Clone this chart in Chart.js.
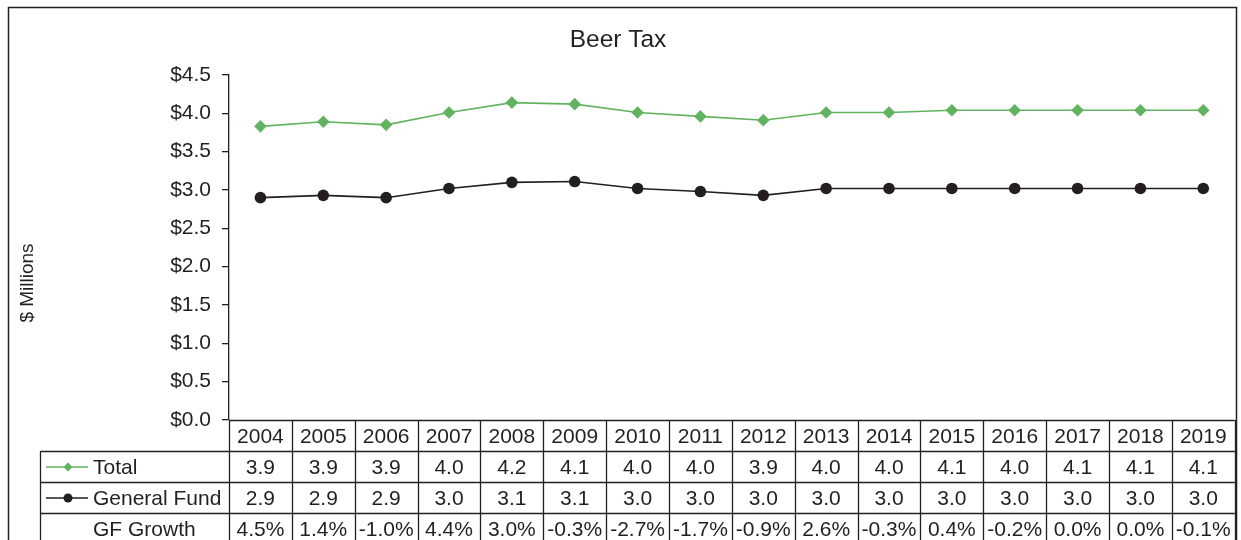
<!DOCTYPE html>
<html>
<head>
<meta charset="utf-8">
<title>Beer Tax</title>
<script src="https://cdn.jsdelivr.net/npm/chart.js@4"></script>
<style>
    body { margin: 0; background: #fff; }
    #wrap { position: relative; width: 1241px; height: 540px; }
</style>
</head>
<body>
<div id="wrap"><canvas id="myChart" width="1241" height="540"></canvas></div>
<script>
//Daten
var years = ["2004", "2005", "2006", "2007", "2008", "2009", "2010", "2011", "2012", "2013", "2014", "2015", "2016", "2017", "2018", "2019"];
var totalValues = [3.83, 3.89, 3.85, 4.01, 4.14, 4.12, 4.01, 3.96, 3.91, 4.01, 4.01, 4.04, 4.04, 4.04, 4.04, 4.04];
var gfValues = [2.90, 2.93, 2.90, 3.02, 3.10, 3.11, 3.02, 2.98, 2.93, 3.02, 3.02, 3.02, 3.02, 3.02, 3.02, 3.02];
var totalLabels = ["3.9", "3.9", "3.9", "4.0", "4.2", "4.1", "4.0", "4.0", "3.9", "4.0", "4.0", "4.1", "4.0", "4.1", "4.1", "4.1"];
var gfLabels = ["2.9", "2.9", "2.9", "3.0", "3.1", "3.1", "3.0", "3.0", "3.0", "3.0", "3.0", "3.0", "3.0", "3.0", "3.0", "3.0"];
var growthLabels = ["4.5%", "1.4%", "-1.0%", "4.4%", "3.0%", "-0.3%", "-2.7%", "-1.7%", "-0.9%", "2.6%", "-0.3%", "0.4%", "-0.2%", "0.0%", "0.0%", "-0.1%"];
var seriesNames = ["Total", "General Fund", "GF Growth"];
var yTitle = "$ Millions";

var green = "#62b360";
var black = "#231f20";
var fontFamily = "'Liberation Sans', Arial, sans-serif";

//Rahmen, Achsentitel und Datentabelle
var tablePlugin = {
    id: "dataTable",
    afterDraw: function (chart) {
        var ctx = chart.ctx;
        var area = chart.chartArea;
        var x = chart.scales.x;
        var rowH = 31;
        var top = area.bottom;
        var legendLeft = 40.5;
        var colW = (area.right - area.left) / years.length;
        ctx.save();

        //Rahmen
        ctx.strokeStyle = black;
        ctx.lineWidth = 1.5;
        ctx.strokeRect(8.5, 7.5, 1228, 600);

        //Y-Titel
        ctx.fillStyle = black;
        ctx.font = "19px " + fontFamily;
        ctx.textAlign = "center";
        ctx.textBaseline = "middle";
        ctx.translate(28, 283);
        ctx.rotate(-Math.PI / 2);
        ctx.fillText(yTitle, 0, 0);
        ctx.setTransform(1, 0, 0, 1, 0, 0);

        //Linien
        ctx.lineWidth = 1.3;
        ctx.beginPath();
        ctx.moveTo(area.left, top + 0.5);
        ctx.lineTo(area.right, top + 0.5);
        for (var r = 1; r <= 3; r++) {
            ctx.moveTo(legendLeft, top + r * rowH + 0.5);
            ctx.lineTo(area.right, top + r * rowH + 0.5);
        }
        ctx.moveTo(legendLeft, top + rowH);
        ctx.lineTo(legendLeft, 545);
        for (var c = 0; c <= years.length; c++) {
            var lx = Math.round(area.left + c * colW) + 0.5;
            ctx.moveTo(lx, top);
            ctx.lineTo(lx, 545);
        }
        ctx.stroke();

        //Zellen
        ctx.font = "21px " + fontFamily;
        ctx.textAlign = "center";
        var rows = [years, totalLabels, gfLabels, growthLabels];
        rows.forEach(function (row, r) {
            var cy = top + r * rowH + rowH / 2 + 2;
            row.forEach(function (txt, i) {
                ctx.fillText(txt, x.getPixelForValue(i), cy);
            });
        });

        //Legende in der Tabelle
        ctx.textAlign = "left";
        seriesNames.forEach(function (name, i) {
            var cy = top + (i + 1) * rowH + rowH / 2 + 2;
            ctx.fillStyle = black;
            ctx.fillText(name, 93, cy);
        });
        var ly1 = top + rowH * 1.5 + 0.5;
        var ly2 = top + rowH * 2.5 + 0.5;
        ctx.lineWidth = 1.5;
        ctx.strokeStyle = green;
        ctx.beginPath();
        ctx.moveTo(46, ly1);
        ctx.lineTo(88, ly1);
        ctx.stroke();
        ctx.fillStyle = green;
        ctx.beginPath();
        ctx.moveTo(68, ly1 - 4.5);
        ctx.lineTo(72.5, ly1);
        ctx.lineTo(68, ly1 + 4.5);
        ctx.lineTo(63.5, ly1);
        ctx.closePath();
        ctx.fill();
        ctx.strokeStyle = black;
        ctx.beginPath();
        ctx.moveTo(46, ly2);
        ctx.lineTo(88, ly2);
        ctx.stroke();
        ctx.fillStyle = black;
        ctx.beginPath();
        ctx.arc(68, ly2, 4.5, 0, Math.PI * 2);
        ctx.fill();

        ctx.restore();
    }
};

var canvas = document.getElementById("myChart");
var myChart = new Chart(canvas, {
    type: "line",
    data: {
        labels: years,
        datasets: [{
            label: "Total",
            data: totalValues,
            borderColor: green,
            backgroundColor: green,
            borderWidth: 1.6,
            pointStyle: "rectRot",
            pointRadius: 6.3,
            pointBorderWidth: 0,
            tension: 0
        }, {
            label: "General Fund",
            data: gfValues,
            borderColor: black,
            backgroundColor: black,
            borderWidth: 1.6,
            pointStyle: "circle",
            pointRadius: 5.8,
            pointBorderWidth: 0,
            tension: 0
        }]
    },
    options: {
        responsive: false,
        animation: false,
        layout: {
            padding: { left: 0, right: 5, top: 0, bottom: 120 }
        },
        scales: {
            x: {
                display: false,
                offset: true
            },
            y: {
                min: 0,
                max: 4.5,
                afterFit: function (scale) {
                    scale.width = 229;
                },
                ticks: {
                    stepSize: 0.5,
                    color: black,
                    padding: 11,
                    font: { family: fontFamily, size: 21 },
                    callback: function (v) {
                        return "$" + v.toFixed(1);
                    }
                },
                grid: {
                    drawOnChartArea: false,
                    drawTicks: true,
                    tickLength: 7,
                    color: black,
                    lineWidth: 1.3
                },
                border: { color: black, width: 1.3 }
            }
        },
        plugins: {
            legend: { display: false },
            tooltip: { enabled: false },
            title: {
                display: true,
                text: "Beer Tax",
                color: black,
                font: { family: fontFamily, size: 24.5, weight: "normal" },
                padding: { top: 26, bottom: 19.6 }
            }
        }
    },
    plugins: [tablePlugin]
});
</script>
</body>
</html>
